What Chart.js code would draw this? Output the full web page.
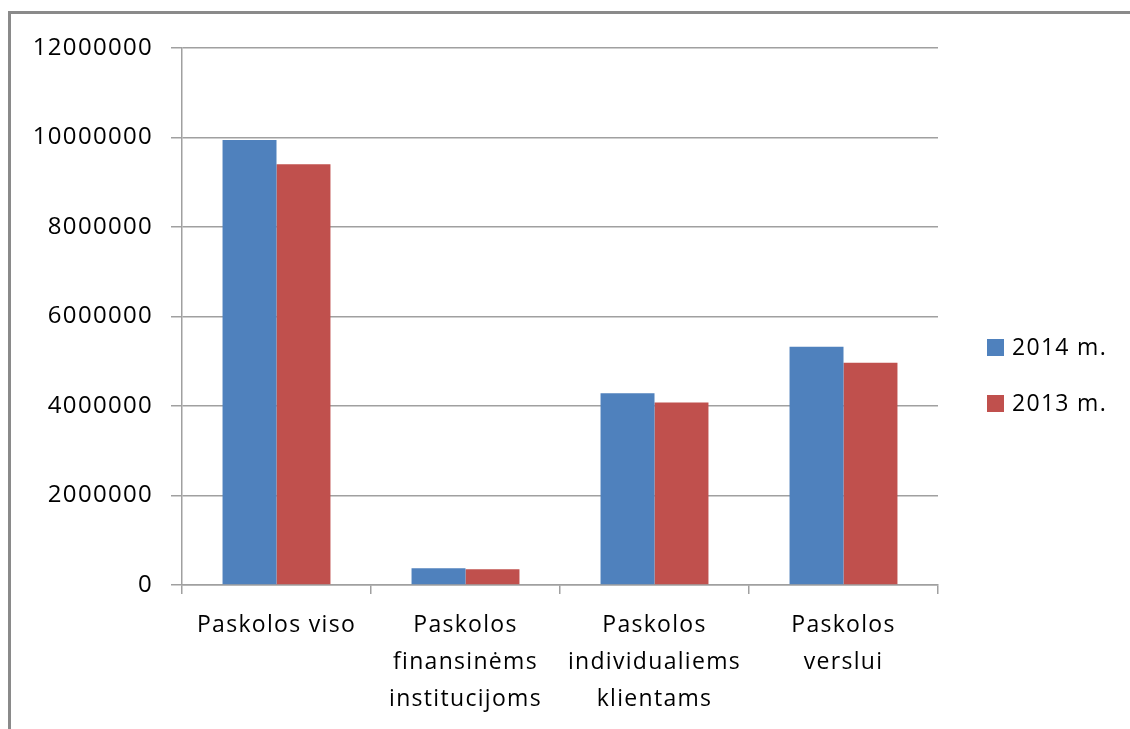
<!DOCTYPE html>
<html>
<head>
<meta charset="utf-8">
<script src="https://cdn.jsdelivr.net/npm/chart.js@4"></script>
<style>
  html, body { margin: 0; padding: 0; background: #ffffff; overflow: hidden; }
  #frame {
    position: absolute; left: 8px; top: 11px; width: 1400px; height: 1000px;
    border: 3px solid #8a8a8a; box-sizing: border-box;
  }
  #c { position: absolute; left: 0; top: 0; }
</style>
</head>
<body>
<div id="frame"></div>
<canvas id="c" width="1130" height="729"></canvas>
<script>
// Loan portfolio by segment, 2014 vs 2013
const categories = [
  ['Paskolos viso'],
  ['Paskolos', 'finansinėms', 'institucijoms'],
  ['Paskolos', 'individualiems', 'klientams'],
  ['Paskolos', 'verslui']
];
const seriesNames = ['2014 m.', '2013 m.'];
const values2014 = [9945000, 373000, 4285000, 5325000];
const values2013 = [9400000, 352000, 4080000, 4968000];
const yTicks = [0, 2000000, 4000000, 6000000, 8000000, 10000000, 12000000];

const BLUE = '#4f81bd';
const RED = '#c0504d';
const GRID = '#a0a0a0';
const TEXT = '#000000';
const FONT = 'Open Sans';
const WEIGHT = 500;
const SPACING = '1.3px';

// Slightly wider text tracking, applied both while measuring and while drawing
const tracking = {
  id: 'tracking',
  beforeUpdate(chart) { chart.ctx.letterSpacing = SPACING; },
  beforeDraw(chart) { chart.ctx.letterSpacing = SPACING; }
};

// Vertical legend at the right side, drawn from the dataset labels and colours
const sideLegend = {
  id: 'sideLegend',
  afterDraw(chart) {
    const ctx = chart.ctx;
    ctx.save();
    ctx.letterSpacing = SPACING;
    ctx.font = WEIGHT + ' 23px "' + FONT + '"';
    ctx.textBaseline = 'middle';
    ctx.textAlign = 'left';
    chart.data.datasets.forEach((ds, i) => {
      const cy = 347 + i * 56;
      ctx.fillStyle = ds.backgroundColor;
      ctx.fillRect(987, cy - 8, 17, 17);
      ctx.fillStyle = TEXT;
      ctx.fillText(ds.label, 1012, cy + 1);
    });
    ctx.restore();
  }
};

new Chart(document.getElementById('c'), {
  type: 'bar',
  data: {
    labels: categories,
    datasets: [
      { label: seriesNames[0], data: values2014, backgroundColor: BLUE },
      { label: seriesNames[1], data: values2013, backgroundColor: RED }
    ]
  },
  options: {
    responsive: false,
    animation: false,
    devicePixelRatio: 1,
    layout: { padding: { top: 48, right: 192, bottom: 0, left: 0 } },
    datasets: { bar: { categoryPercentage: 0.571, barPercentage: 1.0, borderWidth: 0 } },
    plugins: {
      legend: { display: false },
      tooltip: { enabled: false }
    },
    scales: {
      x: {
        afterFit(scale) { scale.height = 144; },
        grid: {
          display: true, offset: true, drawOnChartArea: false, drawTicks: true,
          tickLength: 9, color: GRID, lineWidth: 1.5
        },
        border: { display: true, color: GRID, width: 1.5 },
        ticks: {
          color: TEXT, padding: 13, maxRotation: 0, autoSkip: false,
          font: { family: FONT, size: 23, weight: WEIGHT, lineHeight: 1.6 }
        }
      },
      y: {
        min: 0, max: 12000000,
        afterFit(scale) { scale.width = 182; },
        afterBuildTicks(scale) { scale.ticks = yTicks.map(v => ({ value: v })); },
        grid: { color: GRID, lineWidth: 1.5, tickLength: 11, drawTicks: true },
        border: { display: true, color: GRID, width: 1.5 },
        ticks: {
          color: TEXT, padding: 18,
          font: { family: FONT, size: 24, weight: WEIGHT },
          callback: (v) => String(v)
        }
      }
    }
  },
  plugins: [tracking, sideLegend]
});
</script>
</body>
</html>
